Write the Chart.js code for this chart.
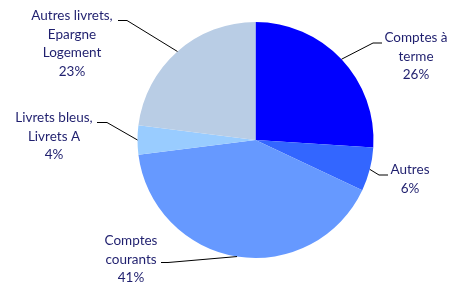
<!DOCTYPE html>
<html>
<head>
<meta charset="utf-8">
<script src="https://cdn.jsdelivr.net/npm/chart.js@4"></script>
<style>
  html, body { margin: 0; padding: 0; background: #fff; }
  #wrap { width: 454px; height: 284px; }
</style>
</head>
<body>
<div id="wrap"><canvas id="pie"></canvas></div>
<script>
// Données
const categories = [
  "Comptes à terme",
  "Autres",
  "Comptes courants",
  "Livrets bleus, Livrets A",
  "Autres livrets, Epargne Logement"
];
const parts = [26, 6, 41, 4, 23];
// texte affiché par libellé (retours à la ligne comme sur l'image)
const labelLines = [
  ["Comptes à", "terme"],
  ["Autres"],
  ["Comptes", "courants"],
  ["Livrets bleus,", "Livrets A"],
  ["Autres livrets,", "Epargne", "Logement"]
];
const colors = ["#0000ff", "#3366ff", "#6699ff", "#99ccff", "#b9cde5"];

// placement des étiquettes : centre du texte, 1re ligne, coude du trait
const labelPos = [
  { x: 416, y: 38, elbow: [373, 43], end: [382, 43] },
  { x: 410, y: 170, elbow: [379, 175], end: [388, 175] },
  { x: 131, y: 241, elbow: [168, 262.5], end: [161, 262.5] },
  { x: 54,  y: 118, elbow: [107, 122.5], end: [97, 122.5] },
  { x: 72,  y: 16,  elbow: [127, 20.5], end: [118, 20.5] }
];

const TEXT_COLOR = "#1f1f6e";
const LINE_H = 18.5;

const leaderLabels = {
  id: "leaderLabels",
  afterDatasetsDraw(chart) {
    const ctx = chart.ctx;
    const arcs = chart.getDatasetMeta(0).data;
    ctx.save();
    arcs.forEach((arc, i) => {
      const p = labelPos[i];
      const mid = (arc.startAngle + arc.endAngle) / 2;
      const ax = arc.x + Math.cos(mid) * arc.outerRadius;
      const ay = arc.y + Math.sin(mid) * arc.outerRadius;

      // trait de rappel
      ctx.strokeStyle = "#000";
      ctx.lineWidth = 1;
      ctx.beginPath();
      ctx.moveTo(ax, ay);
      ctx.lineTo(p.elbow[0], p.elbow[1]);
      ctx.lineTo(p.end[0], p.end[1]);
      ctx.stroke();

      // texte
      const lines = labelLines[i].concat([parts[i] + "%"]);
      ctx.fillStyle = TEXT_COLOR;
      ctx.font = "13.5px Lato, 'Open Sans', sans-serif";
      ctx.textAlign = "center";
      ctx.textBaseline = "middle";
      lines.forEach((t, j) => ctx.fillText(t, p.x, p.y + j * LINE_H));
    });
    ctx.restore();
  }
};

new Chart(document.getElementById("pie"), {
  type: "pie",
  data: {
    labels: categories,
    datasets: [{
      data: parts,
      backgroundColor: colors,
      borderWidth: 0
    }]
  },
  options: {
    responsive: true,
    maintainAspectRatio: false,
    animation: false,
    layout: { padding: { left: 137, right: 80, top: 22, bottom: 26 } },
    plugins: {
      legend: { display: false },
      tooltip: { enabled: false }
    }
  },
  plugins: [leaderLabels]
});
</script>
</body>
</html>
